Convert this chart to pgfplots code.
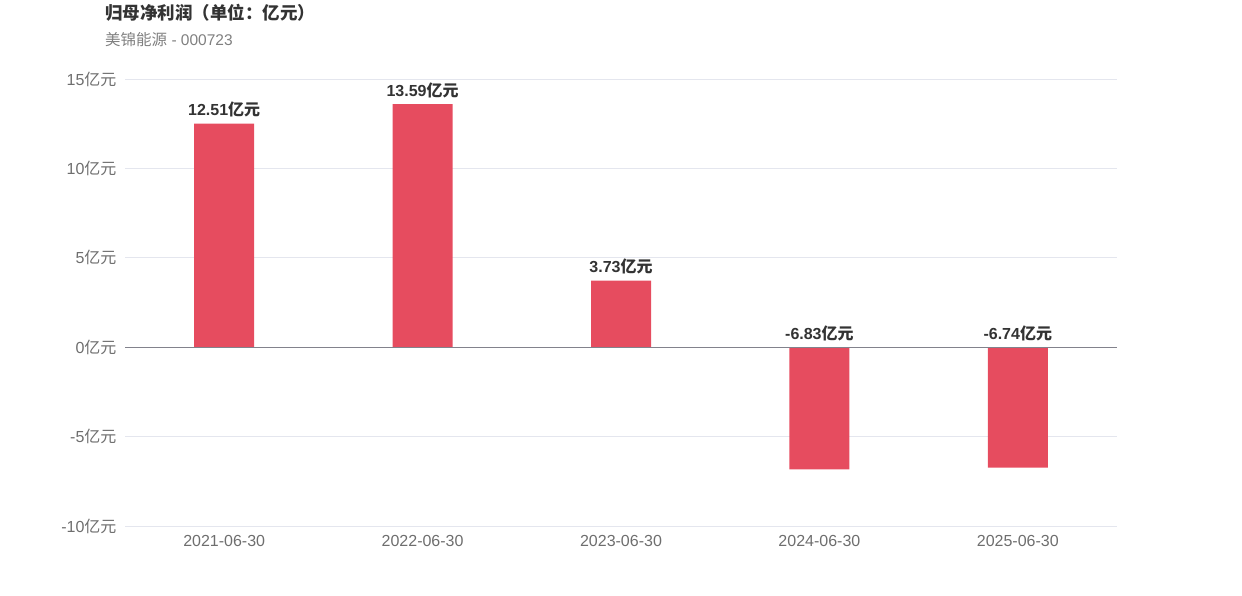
\documentclass[border=0pt]{standalone}
\usepackage{fontspec}
\setmainfont{Liberation Sans}
\newfontfamily\cjk{Noto Sans CJK SC}
\usepackage{pgfplots}
\pgfplotsset{compat=1.18}
\definecolor{barred}{RGB}{230,76,95}
\definecolor{titlegray}{RGB}{51,51,51}
\definecolor{subgray}{RGB}{128,128,128}
\definecolor{tickgray}{RGB}{110,110,110}
\definecolor{gridgray}{RGB}{228,230,238}
\definecolor{zerogray}{RGB}{130,130,140}

\pgfplotstableread{
x y
0 12.51
1 13.59
2 3.73
3 -6.83
4 -6.74
}\profit

% label positions: negative bars get their label on the zero line
\pgfplotstableread{
x ypos val
0 12.51 12.51
1 13.59 13.59
2 3.73 3.73
3 0 -6.83
4 0 -6.74
}\labels

\begin{document}
\begin{tikzpicture}[x=1pt,y=1pt]
\path (0,0) rectangle (1242,596);
\node[anchor=base west, font=\fontsize{17.5}{20}\selectfont\bfseries\cjk, text=titlegray, inner sep=0] at (105,576) {归母净利润（单位：亿元）};
\node[anchor=base west, font=\fontsize{15.5}{18}\selectfont, text=subgray, inner sep=0] at (105,550) {{\cjk 美锦能源} - 000723};
\begin{axis}[
    at={(125pt,70pt)}, anchor=south west,
    scale only axis,
    width=992pt, height=447pt,
    xmin=-0.5, xmax=4.5,
    ymin=-10, ymax=15,
    ytick={-10,-5,0,5,10,15},
    xtick={0,1,2,3,4},
    xticklabels={2021-06-30,2022-06-30,2023-06-30,2024-06-30,2025-06-30},
    axis line style={draw=none},
    major tick length=0pt,
    ymajorgrids=true,
    grid style={gridgray, line width=0.8pt},
    /pgf/number format/assume math mode=true,
    yticklabel={\pgfmathprintnumber{\tick}{\cjk 亿元}},
    yticklabel style={font=\fontsize{16}{18}\selectfont, text=tickgray, xshift=-5pt},
    xticklabel style={font=\fontsize{16}{18}\selectfont, text=tickgray, yshift=-6pt},
    clip=false,
]
\addplot[ybar, bar width=60pt, fill=barred, draw=none] table[x=x, y=y] {\profit};
\draw[zerogray, line width=0.9pt] (axis cs:-0.5,0) -- (axis cs:4.5,0);
\addplot[only marks, mark=none, draw=none,
    nodes near coords={\pgfmathprintnumber[fixed, fixed zerofill, precision=2]{\pgfplotspointmeta}{\cjk 亿元}},
    point meta=explicit,
    every node near coord/.style={font=\fontsize{16}{18}\selectfont\bfseries, text=titlegray, anchor=south, yshift=3pt},
] table[x=x, y=ypos, meta=val] {\labels};
\end{axis}
\end{tikzpicture}
\end{document}
